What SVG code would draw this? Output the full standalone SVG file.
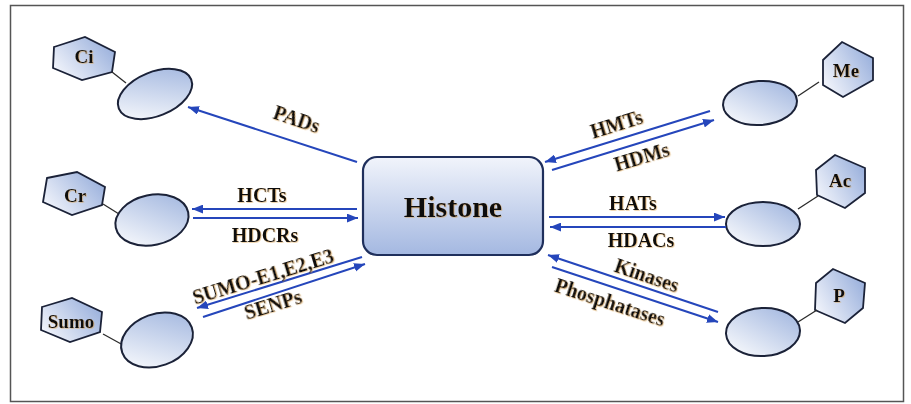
<svg xmlns="http://www.w3.org/2000/svg" width="911" height="404" viewBox="0 0 911 404">
<defs>
<linearGradient id="gEll" x1="0" y1="1" x2="1" y2="0">
<stop offset="0" stop-color="#ffffff"/>
<stop offset="1" stop-color="#9cb2dd"/>
</linearGradient>
<linearGradient id="gHex" x1="0" y1="0.8" x2="1" y2="0.2">
<stop offset="0" stop-color="#f4f6fc"/>
<stop offset="1" stop-color="#97aedb"/>
</linearGradient>
<linearGradient id="gBox" x1="0" y1="0" x2="0" y2="1">
<stop offset="0" stop-color="#f1f4fb"/>
<stop offset="1" stop-color="#a4b8e1"/>
</linearGradient>
<filter id="sh" x="-10%" y="-20%" width="130%" height="150%">
<feDropShadow dx="0.8" dy="0.8" stdDeviation="0.5" flood-color="#d99a3c" flood-opacity="0.5"/>
</filter>
<marker id="ah" viewBox="0 0 10 8" refX="10" refY="4" markerWidth="11" markerHeight="9" markerUnits="userSpaceOnUse" orient="auto">
<path d="M0,0 L10,4 L0,8 Z" fill="#2546bb"/>
</marker>
</defs>
<style>
.ell{fill:url(#gEll);stroke:#1b2238;stroke-width:2}
.hex{fill:url(#gHex);stroke:#1b2238;stroke-width:1.8}
.lnk{stroke:#2b2b2b;stroke-width:1.3}
.arr{stroke:#2546bb;stroke-width:2;fill:none}
.lab{font-family:"Liberation Serif","Times New Roman",serif;font-weight:bold;font-size:20px;fill:#111;text-anchor:middle;filter:url(#sh)}
.hl{font-family:"Liberation Serif","Times New Roman",serif;font-weight:bold;font-size:19px;fill:#111;text-anchor:middle;filter:url(#sh)}
</style>
<rect x="0" y="0" width="911" height="404" fill="#ffffff"/>
<rect x="10.5" y="5.5" width="893" height="396" fill="#ffffff" stroke="#555" stroke-width="1.5"/>

<g id="histone">
<rect x="363" y="157" width="180" height="98" rx="14" ry="14" fill="url(#gBox)" stroke="#1f2f5c" stroke-width="2.2"/>
<text x="453" y="217" style="font-family:'Liberation Serif','Times New Roman',serif;font-weight:bold;font-size:30px;fill:#111;text-anchor:middle;filter:url(#sh)">Histone</text>
</g>

<g id="node-ci">
<polygon class="hex" points="54,47 85,37 115,52 112,72 82,80 53,68"/>
<text class="hl" x="84" y="63">Ci</text>
<line class="lnk" x1="112" y1="72" x2="126" y2="83"/>
<ellipse class="ell" cx="155" cy="94" rx="39" ry="22" transform="rotate(-22 155 94)"/>
</g>

<g id="node-cr">
<polygon class="hex" points="47,178 77,172 105,187 102,205 72,215 43,202"/>
<text class="hl" x="75" y="202">Cr</text>
<line class="lnk" x1="103" y1="204" x2="119" y2="214"/>
<ellipse class="ell" cx="152" cy="220" rx="37" ry="25" transform="rotate(-12 152 220)"/>
</g>

<g id="node-sumo">
<polygon class="hex" points="42,307 72,298 102,312 100,332 70,342 41,330"/>
<text class="hl" x="71" y="328">Sumo</text>
<line class="lnk" x1="103" y1="334" x2="123" y2="345"/>
<ellipse class="ell" cx="157" cy="340" rx="37" ry="26" transform="rotate(-20 157 340)"/>
</g>

<g id="node-me">
<polygon class="hex" points="842,42 873,58 873,80 843,97 823,85 823,60"/>
<text class="hl" x="846" y="77">Me</text>
<line class="lnk" x1="798" y1="96" x2="819" y2="82"/>
<ellipse class="ell" cx="760" cy="103" rx="37" ry="22" transform="rotate(-4 760 103)"/>
</g>

<g id="node-ac">
<polygon class="hex" points="835,155 865,168 865,193 845,208 817,195 816,170"/>
<text class="hl" x="840" y="187">Ac</text>
<line class="lnk" x1="798" y1="209" x2="818" y2="196"/>
<ellipse class="ell" cx="763" cy="224" rx="37" ry="22"/>
</g>

<g id="node-p">
<polygon class="hex" points="833,269 865,283 863,308 845,323 815,310 816,283"/>
<text class="hl" x="839" y="302">P</text>
<line class="lnk" x1="798" y1="322" x2="817" y2="310"/>
<ellipse class="ell" cx="763" cy="332" rx="37" ry="24" transform="rotate(-3 763 332)"/>
</g>

<g id="connectors">
<line class="arr" x1="357" y1="162" x2="188" y2="107" marker-end="url(#ah)"/>
<line class="arr" x1="357" y1="209" x2="192" y2="209" marker-end="url(#ah)"/>
<line class="arr" x1="193" y1="218" x2="358" y2="218" marker-end="url(#ah)"/>
<line class="arr" x1="362" y1="257" x2="197" y2="308" marker-end="url(#ah)"/>
<line class="arr" x1="203" y1="317" x2="365" y2="264" marker-end="url(#ah)"/>
<line class="arr" x1="710" y1="111" x2="545" y2="162" marker-end="url(#ah)"/>
<line class="arr" x1="552" y1="170" x2="714" y2="120" marker-end="url(#ah)"/>
<line class="arr" x1="549" y1="217" x2="725" y2="217" marker-end="url(#ah)"/>
<line class="arr" x1="726" y1="227" x2="550" y2="227" marker-end="url(#ah)"/>
<line class="arr" x1="718" y1="312" x2="548" y2="255" marker-end="url(#ah)"/>
<line class="arr" x1="552" y1="267" x2="718" y2="322" marker-end="url(#ah)"/>
</g>

<g id="labels">
<text class="lab" transform="translate(290 139) rotate(18.6)" y="-14">PADs</text>
<text class="lab" x="262" y="202">HCTs</text>
<text class="lab" x="265" y="242">HDCRs</text>
<text class="lab" transform="translate(266 286) rotate(-17)" y="-3">SUMO-E1,E2,E3</text>
<text class="lab" transform="translate(270 295) rotate(-17)" y="17">SENPs</text>
<text class="lab" transform="translate(621 138.5) rotate(-17.2)" y="-8">HMTs</text>
<text class="lab" transform="translate(638 144.4) rotate(-16.6)" y="20">HDMs</text>
<text class="lab" x="633" y="210">HATs</text>
<text class="lab" x="641" y="247">HDACs</text>
<text class="lab" transform="translate(643 286.7) rotate(18.8)" y="-5">Kinases</text>
<text class="lab" transform="translate(615 287) rotate(18)" y="23">Phosphatases</text>
</g>
</svg>
